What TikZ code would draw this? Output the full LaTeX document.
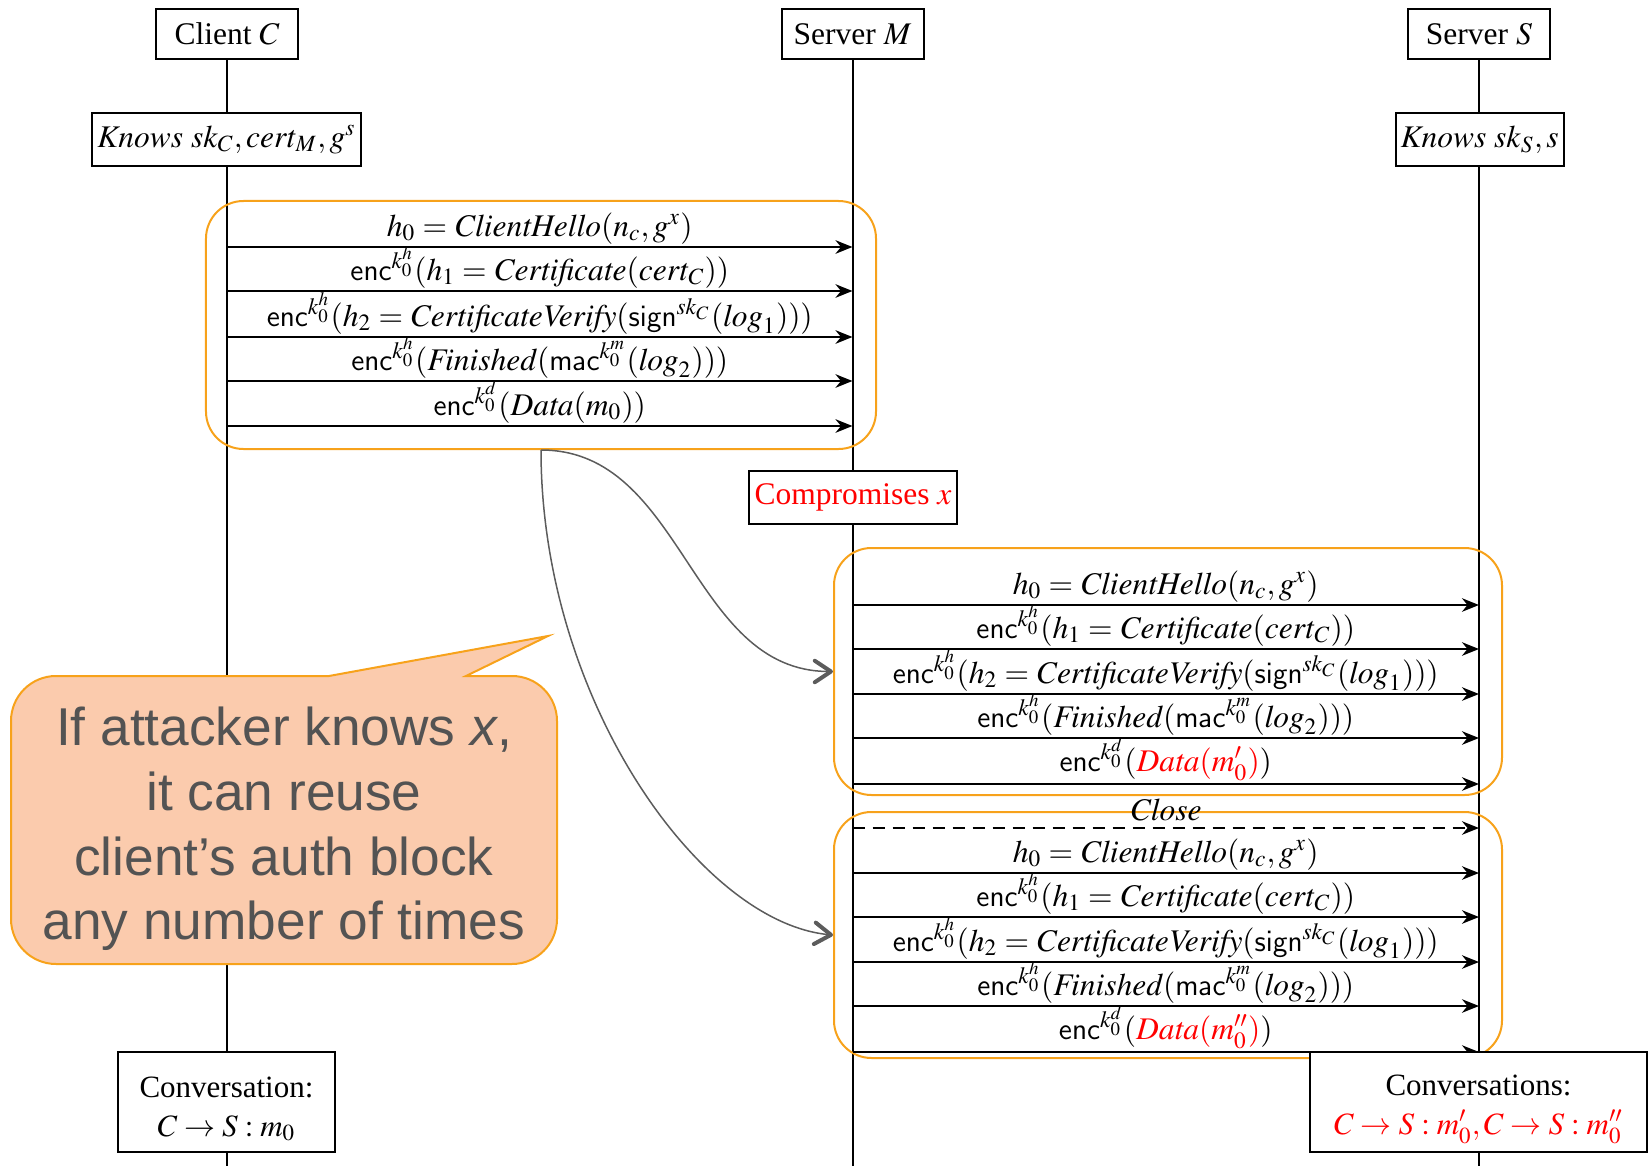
\documentclass[tikz,border=0pt]{standalone}
\usepackage{mathptmx}
\usepackage{fontspec}
\setmainfont{Liberation Serif}
\setsansfont{Liberation Sans}
\usetikzlibrary{arrows.meta}

\definecolor{grouporange}{RGB}{247,162,27}
\definecolor{bubblefill}{RGB}{251,203,173}
\definecolor{bubbletext}{RGB}{83,83,83}
\definecolor{linkgray}{RGB}{92,92,92}

% message texts
\newcommand\mHello{$h_0 = \mathit{ClientHello}(n_c, g^x)$}
\newcommand\mCert{$\mathsf{enc}^{k_0^h}(h_1 = \mathit{Certificate}(\mathit{cert}_C))$}
\newcommand\mVerify{$\mathsf{enc}^{k_0^h}(h_2 = \mathit{CertificateVerify}(\mathsf{sign}^{\mathit{sk}_C}(\mathit{log}_1)))$}
\newcommand\mFin{$\mathsf{enc}^{k_0^h}(\mathit{Finished}(\mathsf{mac}^{k_0^m}(\mathit{log}_2)))$}

\begin{document}
\begin{tikzpicture}[x=0.4pt, y=-0.4pt,
  font=\fontsize{12.6}{14.5}\selectfont,
  hdr/.style={draw, line width=0.8pt, fill=white, minimum width=56.8pt, minimum height=20pt, inner sep=0pt},
  know/.style={draw, line width=0.8pt, fill=white, minimum height=21.2pt, inner xsep=2pt, inner ysep=0pt},
  convo/.style={draw, line width=0.8pt, fill=white, minimum height=40pt, align=center, inner sep=0pt,
    font=\fontsize{12.4}{15.4}\selectfont},
  life/.style={line width=0.8pt},
  grp/.style={draw=grouporange, line width=0.8pt, rounded corners=15pt, inner sep=0pt},
  msg/.style={line width=0.9pt, -{Stealth[length=6.8pt,width=5.4pt]}},
  lbl/.style={above, inner sep=0.8pt},
  link/.style={draw=linkgray, line width=0.6pt, -{Straight Barb[length=6.5pt,width=8.6pt,line width=1.6pt,round]}}
]
\useasboundingbox (0,0) rectangle (1649,1166);

% participants
\node[hdr] (C) at (227,34) {Client $C$};
\node[hdr] (M) at (852.5,34) {Server $M$};
\node[hdr] (S) at (1479,34) {Server $S$};

% lifelines
\draw[life] (C) -- (C |- 0,1166);
\draw[life] (M) -- (M |- 0,1166);
\draw[life] (S) -- (S |- 0,1166);

% initial knowledge
\node[know] (KC) at (226.5,139.5) {$\mathit{Knows}\ \mathit{sk}_C, \mathit{cert}_M, g^s$};
\node[know] (KS) at (1479.5,139.5) {$\mathit{Knows}\ \mathit{sk}_S, s$};

% message groups
\node[grp, minimum width=268pt, minimum height=99.2pt] (B1) at (541,325) {};
\node[grp, minimum width=267.2pt, minimum height=98.8pt] (B2) at (1168,671.5) {};
\node[grp, minimum width=267.2pt, minimum height=98.4pt] (B3) at (1168,935) {};

% honest run C -> M
\draw[msg] (C |- 0,247) -- node[lbl] {\mHello} (M |- 0,247);
\draw[msg] (C |- 0,291) -- node[lbl] {\mCert} (M |- 0,291);
\draw[msg] (C |- 0,337) -- node[lbl] {\mVerify} (M |- 0,337);
\draw[msg] (C |- 0,381) -- node[lbl] {\mFin} (M |- 0,381);
\draw[msg] (C |- 0,426) -- node[lbl] {$\mathsf{enc}^{k_0^d}(\mathit{Data}(m_0))$} (M |- 0,426);

% compromise
\node[draw, line width=0.8pt, fill=white, text=red, minimum width=83.2pt, minimum height=21.2pt, inner sep=0pt] (X) at (853,497.5) {Compromises $x$};

% first replay M -> S
\draw[msg] (M |- 0,605) -- node[lbl] {\mHello} (S |- 0,605);
\draw[msg] (M |- 0,649) -- node[lbl] {\mCert} (S |- 0,649);
\draw[msg] (M |- 0,694) -- node[lbl] {\mVerify} (S |- 0,694);
\draw[msg] (M |- 0,738) -- node[lbl] {\mFin} (S |- 0,738);
\draw[msg] (M |- 0,784) -- node[lbl] {$\mathsf{enc}^{k_0^d}(\textcolor{red}{\mathit{Data}(m_0')})$} (S |- 0,784);

% close and second replay M -> S
\draw[msg, dash pattern=on 5pt off 3pt] (M |- 0,828) -- node[lbl, yshift=1.6pt] {$\mathit{Close}$} (S |- 0,828);
\draw[msg] (M |- 0,873) -- node[lbl] {\mHello} (S |- 0,873);
\draw[msg] (M |- 0,917) -- node[lbl] {\mCert} (S |- 0,917);
\draw[msg] (M |- 0,962) -- node[lbl] {\mVerify} (S |- 0,962);
\draw[msg] (M |- 0,1006) -- node[lbl] {\mFin} (S |- 0,1006);
\draw[msg] (M |- 0,1052) -- node[lbl] {$\mathsf{enc}^{k_0^d}(\textcolor{red}{\mathit{Data}(m_0'')})$} (S |- 0,1052);

% reuse links
\draw[link] (B1.south) to[out=0, in=180] (B2.west);
\draw[link] (B1.south) .. controls +(0,250) and +(-132,-12) .. (B3.west);

% speech bubble
\filldraw[fill=bubblefill, draw=grouporange, line width=0.8pt]
  (329,676) -- (548,636) -- (466,676) -- (512,676)
  arc[start angle=-90, end angle=0, radius=45] -- (557,919)
  arc[start angle=0, end angle=90, radius=45] -- (56,964)
  arc[start angle=90, end angle=180, radius=45] -- (11,721)
  arc[start angle=180, end angle=270, radius=45] -- cycle;
\node[align=center, text=bubbletext, font=\sffamily\fontsize{21.3}{25.9}\selectfont] (note) at (284,829)
  {If attacker knows \textit{x},\\ it can reuse\\ client’s auth block\\ any number of times};

% resulting conversations
\node[convo, minimum width=86.8pt] (CC) at (226.5,1102) {\rule{0pt}{14pt}Conversation:\\ $C \to S : m_0$};
\node[convo, minimum width=134.8pt] (CS) at (1478.5,1102) {\rule{0pt}{14pt}Conversations:\\ \textcolor{red}{$C \to S : m_0', C \to S : m_0''$}};
\end{tikzpicture}
\end{document}
